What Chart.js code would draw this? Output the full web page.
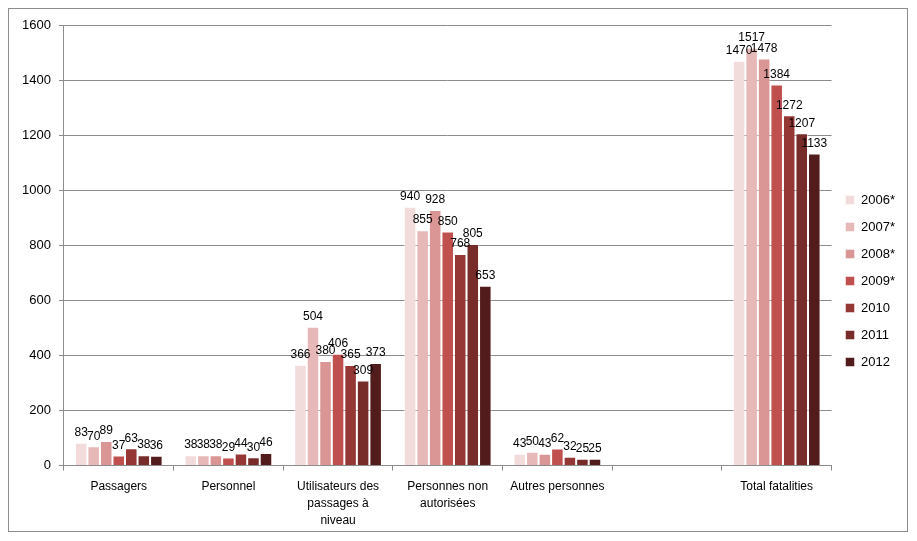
<!DOCTYPE html>
<html>
<head>
<meta charset="utf-8">
<script src="https://cdn.jsdelivr.net/npm/chart.js@4.4.0/dist/chart.umd.min.js"></script>
<style>
  body { margin: 0; background: #fff; }
  #wrap { position: relative; width: 917px; height: 541px; }
  #frame { position: absolute; left: 8px; top: 8px; width: 898px; height: 522px; border: 1px solid #8c8c8c; }
  canvas { position: absolute; left: 0; top: 0; }
</style>
</head>
<body>
<div id="wrap">
  <div id="frame"></div>
  <canvas id="fatalities" width="917" height="541"></canvas>
</div>
<script>

/* BAR: railway fatalities by category */

const categories = [
    'Passagers',
    'Personnel',
    ['Utilisateurs des', 'passages à', 'niveau'],
    ['Personnes non', 'autorisées'],
    'Autres personnes',
    '',
    'Total fatalities'
];

const years = ['2006*', '2007*', '2008*', '2009*', '2010', '2011', '2012'];

const values_2006 = [83, 38, 366, 940, 43, null, 1470];
const values_2007 = [70, 38, 504, 855, 50, null, 1517];
const values_2008 = [89, 38, 380, 928, 43, null, 1478];
const values_2009 = [37, 29, 406, 850, 62, null, 1384];
const values_2010 = [63, 44, 365, 768, 32, null, 1272];
const values_2011 = [38, 30, 309, 805, 25, null, 1207];
const values_2012 = [36, 46, 373, 653, 25, null, 1133];

const series = [values_2006, values_2007, values_2008, values_2009, values_2010, values_2011, values_2012];

const colors = ['#F2DCDB', '#E6B9B8', '#D99694', '#C0504D', '#953735', '#772C2A', '#511C1B'];

const fontFamily = '"Liberation Sans", Arial, sans-serif';

// values written over each bar, like the excel chart
const barLabels = {
    id: 'barLabels',
    afterDatasetsDraw(chart) {
        const c = chart.ctx;
        c.save();
        c.font = '12px ' + fontFamily;
        c.fillStyle = '#000';
        c.textAlign = 'center';
        c.textBaseline = 'bottom';
        chart.data.datasets.forEach(function(ds, i) {
            const meta = chart.getDatasetMeta(i);
            meta.data.forEach(function(bar, j) {
                const v = ds.data[j];
                if (v === null || v === undefined) return;
                c.fillText(String(v), bar.x, bar.y - 4);
            });
        });
        c.restore();
    }
};

const ctx = document.getElementById('fatalities').getContext('2d');
const chart = new Chart(ctx, {
    type: 'bar',
    data: {
        labels: categories,
        datasets: series.map(function(arr, i) {
            return {
                label: years[i],
                data: arr,
                backgroundColor: colors[i],
                borderColor: 'rgba(255,255,255,0.5)',
                borderWidth: 1,
                categoryPercentage: 0.8,
                barPercentage: 1.0
            };
        })
    },
    options: {
        responsive: false,
        animation: false,
        layout: {
            padding: { left: 14, top: 25, right: 12, bottom: 4 }
        },
        plugins: {
            tooltip: { enabled: false },
            legend: {
                position: 'right',
                labels: {
                    boxWidth: 9,
                    boxHeight: 9,
                    padding: 14,
                    color: '#000',
                    font: { family: fontFamily, size: 13 }
                }
            }
        },
        scales: {
            x: {
                grid: {
                    display: true,
                    drawOnChartArea: false,
                    drawTicks: true,
                    tickLength: 5,
                    color: '#8c8c8c'
                },
                border: { color: '#8c8c8c' },
                ticks: {
                    color: '#000',
                    maxRotation: 0,
                    autoSkip: false,
                    padding: 8,
                    font: { family: fontFamily, size: 12, lineHeight: 1.4 }
                }
            },
            y: {
                min: 0,
                max: 1600,
                ticks: {
                    stepSize: 200,
                    color: '#000',
                    padding: 8,
                    font: { family: fontFamily, size: 13 },
                    callback: function(v) { return String(v); }
                },
                grid: {
                    color: '#8c8c8c',
                    tickLength: 5
                },
                border: { color: '#8c8c8c' }
            }
        }
    },
    plugins: [barLabels]
});

</script>
</body>
</html>
